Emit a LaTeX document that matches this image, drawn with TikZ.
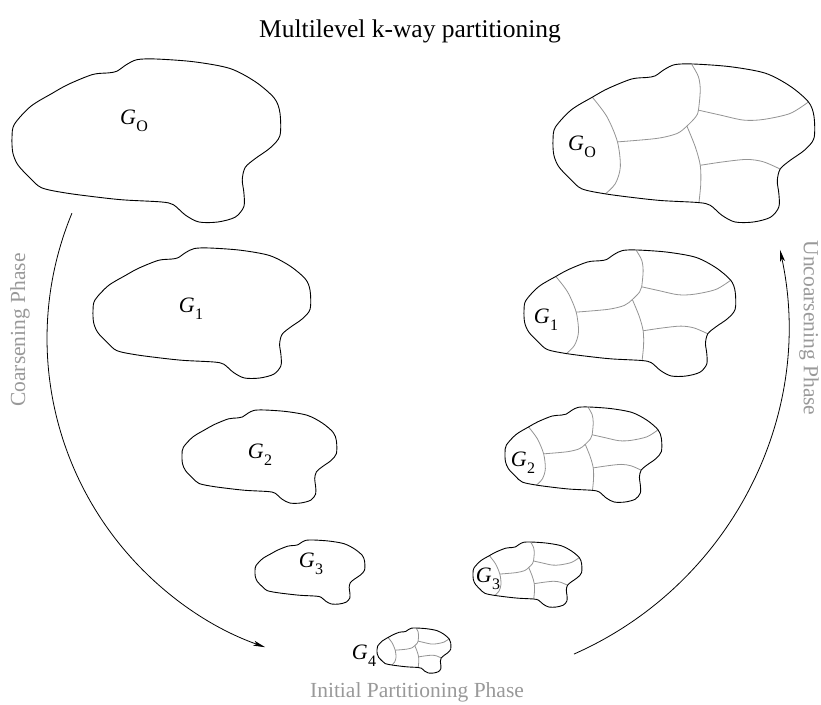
\documentclass[tikz,border=0pt]{standalone}
\usepackage{fontspec}
\setmainfont{Liberation Serif}
\usetikzlibrary{arrows.meta,calc}
\newcommand\glab[1]{\textit{G}\kern0.01em\raisebox{-0.3em}{\fontsize{16}{16}\selectfont #1}}
\newcommand\blobshape{plot[smooth cycle, tension=0.5] coordinates{
 (0,.48) (.009,.40) (.07,.29) (.15,.21) (.21,.155) (.30,.095) (.36,.085) (.39,.075) (.425,.035) (.465,.004) (.535,0)
 (.676,.017) (.81,.058) (.905,.14) (.975,.24) (.996,.33) (.996,.47) (.96,.545) (.905,.61) (.867,.665) (.856,.74)
 (.862,.82) (.862,.905) (.83,.97) (.765,1.0) (.695,1.0) (.645,.958) (.6,.894) (.555,.877) (.42,.865) (.33,.85)
 (.2,.822) (.11,.79) (.066,.728) (.022,.65) (.003,.575)}}
\tikzset{
 outline/.style={black, line width=0.9pt},
 partline/.style={black!42, line width=0.8pt},
 glabel/.style={font=\fontsize{22}{22}\selectfont, inner sep=0pt},
 phase/.style={font=\fontsize{21.5}{21.5}\selectfont, text=black!40, inner sep=0pt},
 titletext/.style={font=\fontsize{25.5}{25.5}\selectfont, inner sep=0pt},
 phasearrow/.style={black, line width=0.8pt, -{Stealth[length=12pt,width=5pt,inset=3pt]}},
 plainblob/.pic={\draw[outline] \blobshape;},
 partblob/.pic={
  \draw[partline] plot[smooth, tension=0.5] coordinates{(.15,.21) (.206,.334) (.246,.493) (.257,.651) (.238,.757) (.2,.822)};
  \draw[partline] plot[smooth, tension=0.5] coordinates{(.246,.493) (.396,.471) (.473,.44) (.511,.393) (.545,.334) (.555,.292) (.562,.165) (.555,.08) (.53,.004)};
  \draw[partline] plot[smooth, tension=0.5] coordinates{(.511,.393) (.543,.524) (.562,.641) (.564,.757) (.557,.877)};
  \draw[partline] plot[smooth, tension=0.5] coordinates{(.555,.292) (.638,.323) (.727,.355) (.803,.351) (.905,.313) (.975,.24)};
  \draw[partline] plot[smooth, tension=0.5] coordinates{(.562,.641) (.651,.619) (.74,.604) (.803,.619) (.867,.665)};
  \draw[outline] \blobshape;}
}
\begin{document}
\begin{tikzpicture}[x=1pt,y=-1pt]
\useasboundingbox[fill=white] (0,0) rectangle (821,704);
% title
\node[titletext] (title) at (410,31) {Multilevel k-way partitioning};
% coarsening side
\pic[xscale=269,yscale=163] at (12,59) {plainblob};
\pic[xscale=218,yscale=130] at (93,248) {plainblob};
\pic[xscale=155,yscale=93] at (182,410) {plainblob};
\pic[xscale=110,yscale=64] at (255,540) {plainblob};
% uncoarsening side
\pic[xscale=262,yscale=158] at (553,64) {partblob};
\pic[xscale=212,yscale=126] at (524,250) {partblob};
\pic[xscale=157,yscale=95] at (505,407) {partblob};
\pic[xscale=109,yscale=65] at (473,542) {partblob};
\pic[xscale=74,yscale=45] at (377,628) {partblob};
% labels
\node[glabel] (lg0) at (134,121) {\glab{O}};
\node[glabel] (lg1) at (191,309) {\glab{1}};
\node[glabel] (lg2) at (260,455) {\glab{2}};
\node[glabel] (lg3) at (311,564) {\glab{3}};
\node[glabel] (rg0) at (582,147) {\glab{O}};
\node[glabel] (rg1) at (546,320) {\glab{1}};
\node[glabel] (rg2) at (523,463) {\glab{2}};
\node[glabel] (rg3) at (488,579) {\glab{3}};
\node[glabel] (rg4) at (364,656) {\glab{4}};
% phase labels
\node[phase, rotate=90] (coarse) at (20,330) {Coarsening Phase};
\node[phase, rotate=-90] (uncoarse) at (809,328) {Uncoarsening Phase};
\node[phase] (initial) at (417,692) {Initial Partitioning Phase};
% arrows
\coordinate (lc) at (374.5,338.5);
\coordinate (rc) at (429.1,325.6);
\draw[phasearrow] ($(lc)+(202.5:327.5)$) arc[start angle=202.5, end angle=109.5, radius=327.5];
\draw[phasearrow] ($(rc)+(66.2:359)$) arc[start angle=66.2, end angle=-12.2, radius=359];
\end{tikzpicture}
\end{document}
